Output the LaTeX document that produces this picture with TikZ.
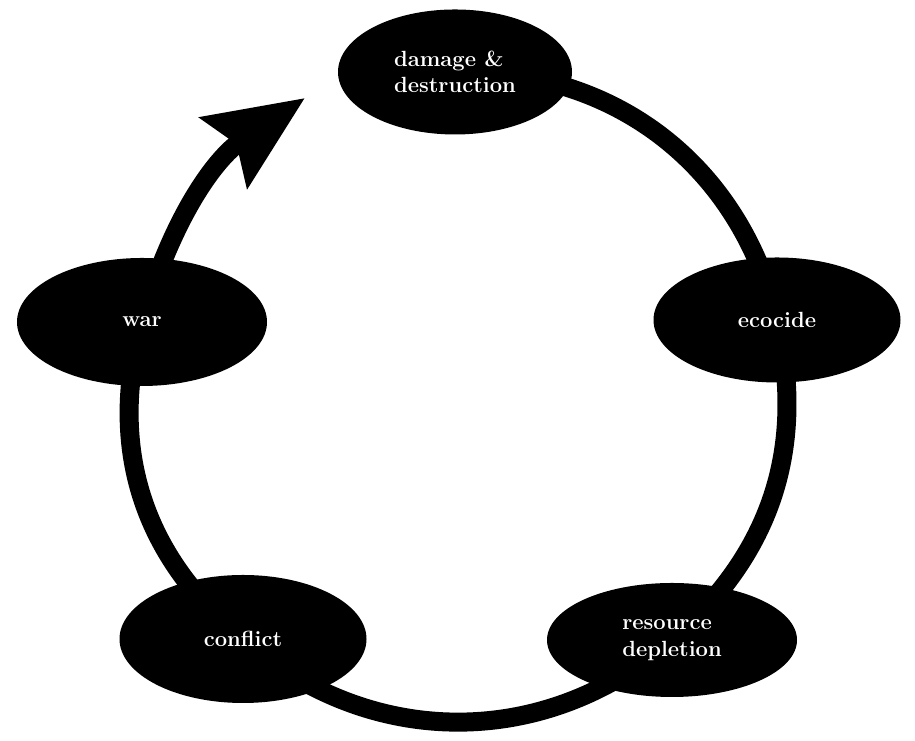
\documentclass[tikz,border=0pt]{standalone}
\usetikzlibrary{shapes.geometric, arrows.meta, backgrounds}
\tikzset{
  % tappa del ciclo
  stage/.style={ellipse, fill=black, text=white, inner sep=0pt, align=left,
    font=\fontsize{12.5}{15}\selectfont\bfseries},
  % tratto del cerchio
  cyclelink/.style={line width=0.38cm, black},
  cyclearrow/.style={cyclelink, -{Stealth[length=1.94cm, width=1.66cm, inset=0.29cm]}},
}
\begin{document}
\begin{tikzpicture}
  \useasboundingbox (0,0) rectangle (18.3,14.82);
  % tappe
  \node[stage, minimum width=4.68cm, minimum height=2.5cm] (damage) at (9.10,13.38) {damage \&\\destruction};
  \node[stage, minimum width=4.94cm, minimum height=2.5cm] (ecocide) at (15.54,8.42) {ecocide};
  \node[stage, minimum width=5.0cm, minimum height=2.28cm] (resource) at (13.44,2.02) {resource\\depletion};
  \node[stage, minimum width=4.94cm, minimum height=2.56cm] (conflict) at (4.86,2.04) {conflict};
  \node[stage, minimum width=5.0cm, minimum height=2.56cm] (war) at (2.84,8.38) {war};
  \coordinate (tip) at (6.10,12.86);
  % cerchio dietro le tappe
  \begin{scope}[on background layer]
    \draw[cyclelink] (damage.center) to[bend left=39] (ecocide.center);
    \draw[cyclelink] (ecocide.center) to[bend left=31] (resource.center);
    \draw[cyclelink] (resource.center) to[bend left=41] (conflict.center);
    \draw[cyclelink] (conflict.center) to[bend left=33] (war.center);
    \draw[cyclearrow] (war.center) to[bend left=20] (tip);
  \end{scope}
\end{tikzpicture}
\end{document}
